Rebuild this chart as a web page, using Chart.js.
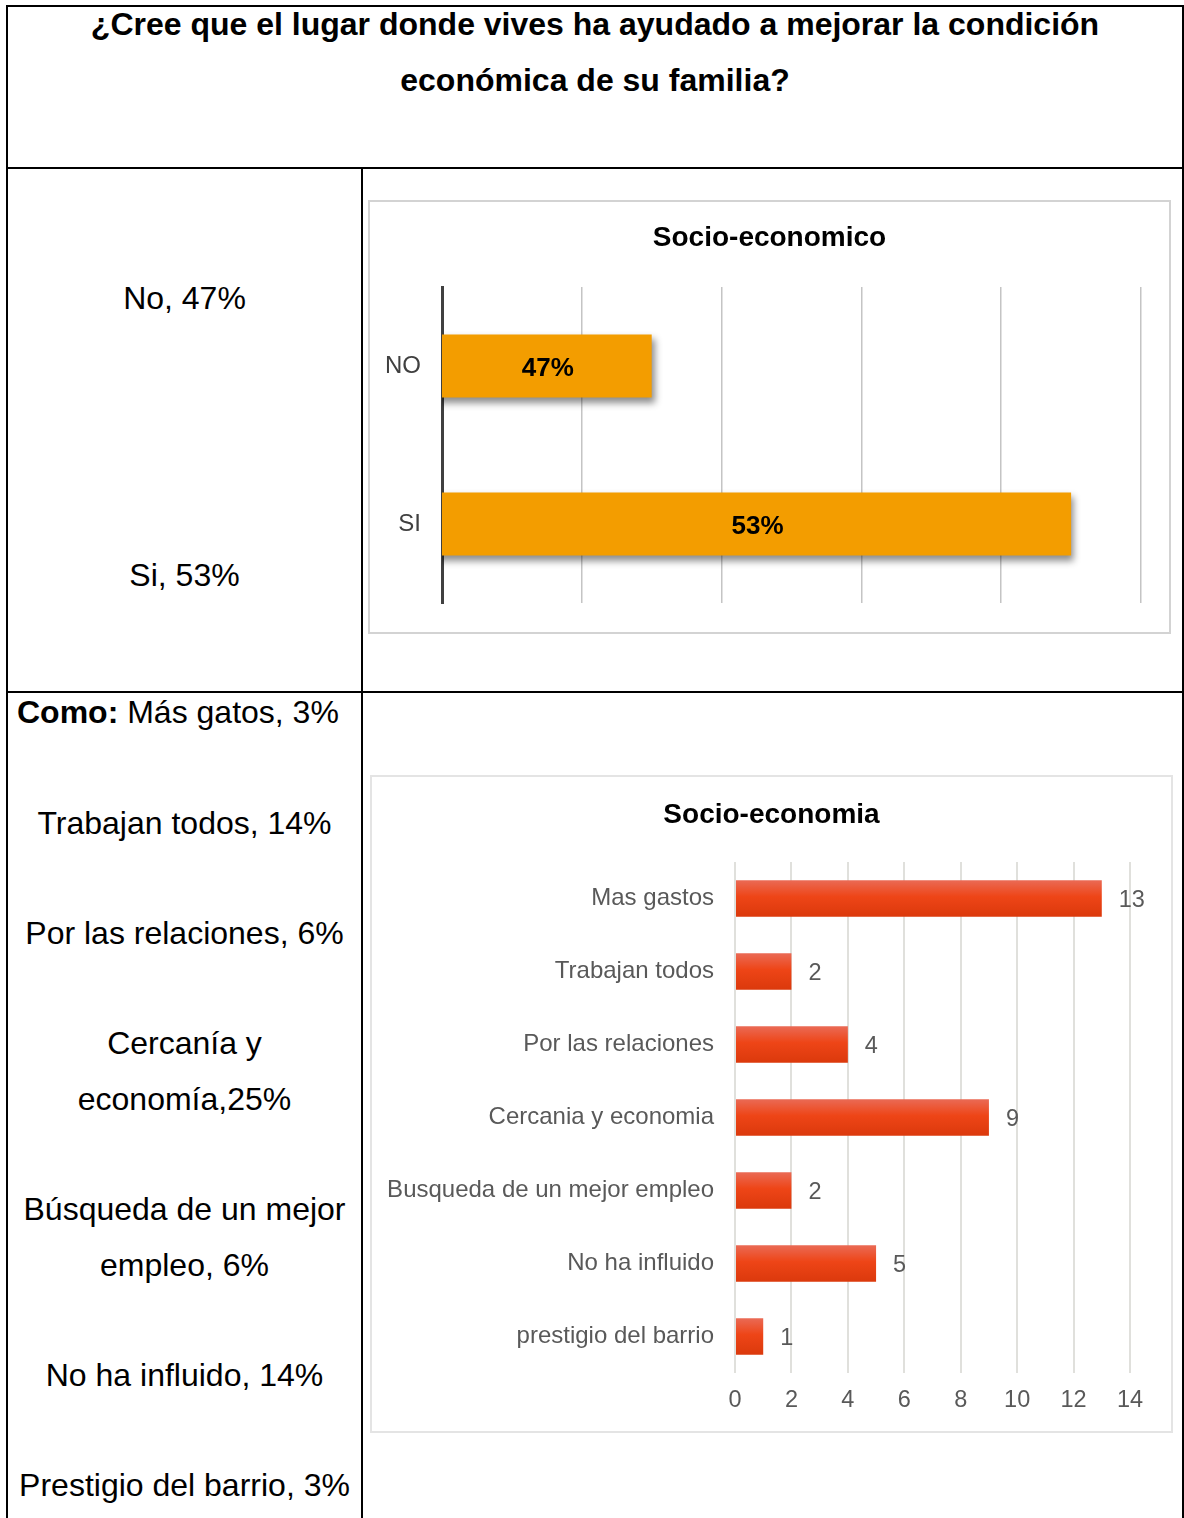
<!DOCTYPE html>
<html lang="es">
<head>
<meta charset="utf-8">
<title>Socio-economía</title>
<script src="https://cdn.jsdelivr.net/npm/chart.js@4.4.1/dist/chart.umd.min.js"></script>
<style>
  body { margin: 0; width: 1184px; height: 1518px; position: relative; background: #fff; overflow: hidden;
         font-family: "Liberation Sans", Arial, sans-serif; color: #000; }
  .line { position: absolute; background: #000; }
  .txt { position: absolute; font-size: 32px; line-height: 40px; white-space: nowrap; }
  .col { left: 7px; width: 355px; text-align: center; }
  .head { left: 7px; width: 1176px; text-align: center; font-weight: bold; }
  .box { position: absolute; box-sizing: border-box; }
  canvas { position: absolute; }
</style>
</head>
<body>

<!-- bordes de la tabla -->
<div class="line" style="left:6px; top:5px; width:1178px; height:2px"></div>
<div class="line" style="left:6px; top:5px; width:2px; height:1513px"></div>
<div class="line" style="left:1182px; top:5px; width:2px; height:1513px"></div>
<div class="line" style="left:6px; top:167px; width:1178px; height:2px"></div>
<div class="line" style="left:6px; top:691px; width:1178px; height:2px"></div>
<div class="line" style="left:361px; top:167px; width:2px; height:1351px"></div>

<div class="txt head" style="top:4px">¿Cree que el lugar donde vives ha ayudado a mejorar la condición</div>
<div class="txt head" style="top:60px">económica de su familia?</div>

<div class="txt col" style="top:278px">No, 47%</div>
<div class="txt col" style="top:555px">Si, 53%</div>

<div class="txt" style="left:17px; top:692px"><b>Como:</b> Más gatos, 3%</div>
<div class="txt col" style="top:803px">Trabajan todos, 14%</div>
<div class="txt col" style="top:913px">Por las relaciones, 6%</div>
<div class="txt col" style="top:1023px">Cercanía y</div>
<div class="txt col" style="top:1079px">economía,25%</div>
<div class="txt col" style="top:1189px">Búsqueda de un mejor</div>
<div class="txt col" style="top:1245px">empleo, 6%</div>
<div class="txt col" style="top:1355px">No ha influido, 14%</div>
<div class="txt col" style="top:1465px">Prestigio del barrio, 3%</div>

<div class="box" style="left:368px; top:200px; width:803px; height:434px; border:2px solid #d3d3d3"></div>
<canvas id="graficoSocio" width="799" height="430" style="left:370px; top:202px"></canvas>

<div class="box" style="left:370px; top:775px; width:803px; height:658px; border:2px solid #e4e4e4"></div>
<canvas id="graficoComo" width="799" height="654" style="left:372px; top:777px"></canvas>

<script>
const respuestas = ["NO", "SI"];
const porcentajes = [47, 53];

const motivos = ["Mas gastos", "Trabajan todos", "Por las relaciones", "Cercania y economia",
                 "Busqueda de un mejor empleo", "No ha influido", "prestigio del barrio"];
const cantidades = [13, 2, 4, 9, 2, 5, 1];
const ticksCantidad = [0, 2, 4, 6, 8, 10, 12, 14];

Chart.defaults.font.family = '"Liberation Sans", Arial, sans-serif';
Chart.defaults.animation = false;

// título centrado sobre todo el lienzo (el de Chart.js se centra sin el padding)
const tituloCentrado = {
  id: "tituloCentrado",
  afterDraw(chart, args, opts) {
    const ctx = chart.ctx;
    ctx.save();
    ctx.font = 'bold 28px "Liberation Sans", Arial, sans-serif';
    ctx.fillStyle = "#000";
    ctx.textAlign = "center";
    ctx.textBaseline = "middle";
    ctx.fillText(opts.text, chart.width / 2, opts.y);
    ctx.restore();
  }
};

// sombra bajo las barras naranjas
const sombraBarras = {
  id: "sombraBarras",
  beforeDatasetsDraw(chart) {
    const ctx = chart.ctx;
    ctx.save();
    ctx.shadowColor = "rgba(0,0,0,0.45)";
    ctx.shadowBlur = 7;
    ctx.shadowOffsetX = 3;
    ctx.shadowOffsetY = 5;
  },
  afterDatasetsDraw(chart) {
    chart.ctx.restore();
  }
};

// porcentaje en negrita en el centro de cada barra
const etiquetaDentro = {
  id: "etiquetaDentro",
  afterDraw(chart) {
    const ctx = chart.ctx;
    const sx = chart.scales.x, sy = chart.scales.y;
    ctx.save();
    ctx.font = 'bold 26px "Liberation Sans", Arial, sans-serif';
    ctx.fillStyle = "#000";
    ctx.textAlign = "center";
    ctx.textBaseline = "middle";
    porcentajes.forEach((v, i) => {
      const x = (sx.getPixelForValue(sx.min) + sx.getPixelForValue(v)) / 2;
      ctx.fillText(v + "%", x + 1, sy.getPixelForValue(i) + 3);
    });
    ctx.restore();
  }
};

const graficoSocio = new Chart(document.getElementById("graficoSocio"), {
  type: "bar",
  data: {
    labels: respuestas,
    datasets: [{
      data: porcentajes,
      backgroundColor: "#F39D00",
      borderWidth: 0,
      barPercentage: 0.4,
      categoryPercentage: 1
    }]
  },
  options: {
    indexAxis: "y",
    responsive: false,
    layout: { padding: { top: 85, right: 28, bottom: 29, left: 0 } },
    plugins: {
      legend: { display: false },
      tooltip: { enabled: false },
      title: { display: false },
      tituloCentrado: { text: "Socio-economico", y: 36 }
    },
    scales: {
      x: {
        min: 44,
        max: 54,
        ticks: { display: false, stepSize: 2 },
        grid: { color: "#c4c4c4", lineWidth: 1.5, drawTicks: false },
        border: { display: false }
      },
      y: {
        afterFit(s) { s.width = 72; s.paddingTop = 0; s.paddingBottom = 0; },
        ticks: { color: "#404040", font: { size: 24 }, padding: 13 },
        grid: { display: false },
        border: { color: "#404040", width: 3 }
      }
    }
  },
  plugins: [sombraBarras, etiquetaDentro, tituloCentrado]
});

// degradado vertical de cada barra roja
function degradadoBarra(c) {
  const chart = c.chart;
  const y = chart.scales && chart.scales.y;
  const plano = "#EA4519";
  if (c.type !== "data" || !y) return plano;
  const centro = y.getPixelForValue(c.dataIndex);
  const medio = (y.bottom - y.top) / motivos.length * 0.25;
  if (!isFinite(centro) || !isFinite(medio) || medio <= 0) return plano;
  const g = chart.ctx.createLinearGradient(0, centro - medio, 0, centro + medio);
  g.addColorStop(0, "#EA6A55");
  g.addColorStop(0.45, "#EE4517");
  g.addColorStop(1, "#DB390C");
  return g;
}

const etiquetaFuera = {
  id: "etiquetaFuera",
  afterDraw(chart) {
    const ctx = chart.ctx;
    ctx.save();
    ctx.font = '23.5px "Liberation Sans", Arial, sans-serif';
    ctx.fillStyle = "#595959";
    ctx.textAlign = "left";
    ctx.textBaseline = "middle";
    chart.getDatasetMeta(0).data.forEach((bar, i) => {
      ctx.fillText(String(cantidades[i]), bar.x + 17, bar.y + 2);
    });
    ctx.restore();
  }
};

const graficoComo = new Chart(document.getElementById("graficoComo"), {
  type: "bar",
  data: {
    labels: motivos,
    datasets: [{
      data: cantidades,
      backgroundColor: degradadoBarra,
      barPercentage: 0.5,
      categoryPercentage: 1
    }]
  },
  options: {
    indexAxis: "y",
    responsive: false,
    layout: { padding: { top: 85, right: 41, bottom: 0, left: 0 } },
    plugins: {
      legend: { display: false },
      tooltip: { enabled: false },
      title: { display: false },
      tituloCentrado: { text: "Socio-economia", y: 38 }
    },
    scales: {
      x: {
        min: ticksCantidad[0],
        max: ticksCantidad[ticksCantidad.length - 1],
        afterBuildTicks(s) { s.ticks = ticksCantidad.map(v => ({ value: v })); },
        afterFit(s) { s.height = 58; },
        ticks: { color: "#595959", font: { size: 23.5 }, padding: 13 },
        grid: { color: "#e0e0dc", lineWidth: 2, drawTicks: false },
        border: { display: false }
      },
      y: {
        afterFit(s) { s.width = 363; s.paddingTop = 0; s.paddingBottom = 0; },
        ticks: { color: "#595959", font: { size: 24 }, padding: 13 },
        grid: { display: false },
        border: { display: false }
      }
    }
  },
  plugins: [etiquetaFuera, tituloCentrado]
});

// segunda pasada: el degradado usa las posiciones ya calculadas
graficoSocio.update();
graficoComo.update();
</script>
</body>
</html>
